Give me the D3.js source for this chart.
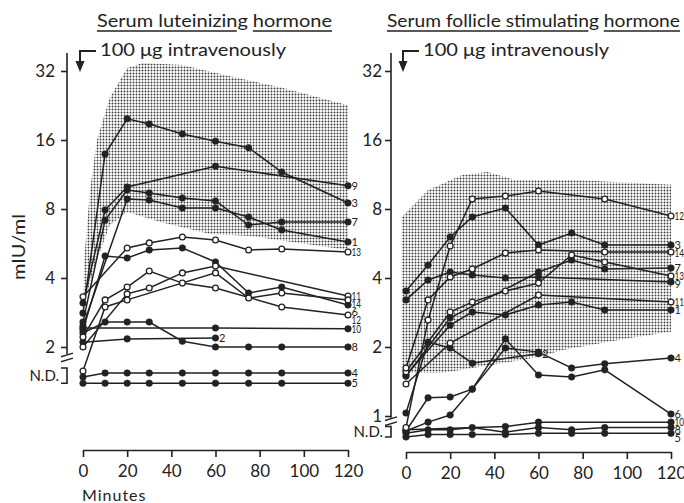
<!DOCTYPE html>
<html>
<head>
<meta charset="utf-8">
<script src="https://cdn.jsdelivr.net/npm/d3@7"></script>
<style>
    body { margin: 0; background: #fff; }
    svg { display: block; font-family: Lato, "DejaVu Sans", sans-serif; }
</style>
</head>
<body>
<svg id="chart" width="684" height="503"></svg>
<script>
// sampling times (minutes after injection)
const minutes = [0, 10, 20, 30, 45, 60, 75, 90, 120];
const xTicks = [0, 20, 40, 60, 80, 100, 120];
const lhTicks = [2, 4, 8, 16, 32];
const fshTicks = [1, 2, 4, 8, 16, 32];

// mIU/ml per patient, null = no sample. N.D. readings are kept at the level
// where they are plotted under the axis break.
const lh1 = [2.47, null, 8.85, 8.76, 8.08, 8.08, 7.38, 6.48, 5.74];
const lh2 = [2.10, null, 2.17, null, null, 2.19, null, null, null];
const lh3 = [2.81, 13.9, 19.8, 18.8, 17.0, 15.8, 14.8, 11.6, 8.5];
const lh4 = [1.48, 1.54, 1.54, 1.54, 1.54, 1.54, 1.54, 1.54, 1.54];
const lh5 = [1.39, 1.39, 1.39, 1.39, 1.39, 1.39, 1.39, 1.39, 1.39];
const lh6 = [2.37, 4.99, 4.89, 5.30, 5.41, 4.70, 3.44, 3.65, 3.05];
const lh7 = [2.57, 7.16, 9.68, 9.40, 8.93, 8.67, 6.81, 7.02, 7.02];
const lh8 = [2.30, 2.57, 2.57, 2.57, 2.12, 2.0, 2.0, 2.0, 2.0];
const lh9 = [3.11, 7.92, 9.98, null, null, 12.3, null, null, 10.1];
const lh10 = [2.42, null, null, null, null, 2.42, null, null, 2.40];
const lh11 = [2.0, null, 3.41, 3.62, 4.21, 4.51, null, null, 3.34];
const lh12 = [2.21, 3.21, 3.65, 4.29, 3.80, 3.62, null, 2.99, 2.76];
const lh13 = [3.31, null, 5.41, 5.69, 6.04, 5.86, 5.30, 5.35, 5.19];
const lh14 = [1.57, 2.99, 3.21, null, null, 4.21, 3.27, 3.44, 3.21];

const fsh1 = [1.51, null, 2.49, 2.84, 2.76, 3.05, 3.14, 2.90, 2.90];
const fsh2 = [1.03, 2.10, 1.98, 1.70, null, 1.87, null, null, null];
const fsh3 = [3.51, 4.56, 6.04, 7.38, 8.08, 5.57, 6.29, 5.57, 5.57];
const fsh4 = [0.86, 0.94, 1.01, 1.31, 1.98, 1.90, 1.62, 1.69, 1.79];
const fsh5 = [0.81, 0.83, 0.83, 0.83, 0.83, 0.84, 0.84, 0.84, 0.84];
const fsh6 = [0.86, 1.20, 1.21, 1.31, 2.17, 1.51, 1.48, 1.59, 1.02];
const fsh7 = [1.49, null, 2.68, null, null, 4.25, 4.79, 4.38, 4.42];
const fsh8 = [0.84, 0.87, 0.87, 0.89, 0.85, 0.89, 0.87, 0.89, 0.89];
const fsh9 = [3.21, 3.92, 4.25, 4.12, 4.0, 4.04, null, null, 3.84];
const fsh10 = [0.87, null, null, null, 0.90, 0.94, null, null, 0.94];
const fsh11 = [1.38, null, 2.08, null, null, 3.37, null, null, 3.14];
const fsh12 = [0.89, 2.62, 5.52, 8.85, 9.11, 9.59, null, 8.85, 7.46];
const fsh13 = [1.56, null, 2.84, 3.14, 3.51, 3.80, 5.04, 4.70, 4.08];
const fsh14 = [1.62, 3.21, 4.04, 4.38, 5.14, 5.30, null, 5.19, 5.19];

// [label, open circle, values]
const lhLines = [
    ["1", false, lh1], ["2", false, lh2], ["3", false, lh3], ["4", false, lh4],
    ["5", false, lh5], ["6", false, lh6], ["7", false, lh7], ["8", false, lh8],
    ["9", false, lh9], ["10", false, lh10], ["11", true, lh11], ["12", true, lh12],
    ["13", true, lh13], ["14", true, lh14],
];
const fshLines = [
    ["1", false, fsh1], ["2", false, fsh2], ["3", false, fsh3], ["4", false, fsh4],
    ["5", false, fsh5], ["6", false, fsh6], ["7", false, fsh7], ["8", false, fsh8],
    ["9", false, fsh9], ["10", false, fsh10], ["11", true, fsh11], ["12", true, fsh12],
    ["13", true, fsh13], ["14", true, fsh14],
];

// stippled normal range, [minutes, mIU/ml]
const lhBandUpper = [[0, 3.21], [0.5, 4.79], [3.2, 9.68], [6.3, 16], [12.2, 24.6], [20, 33.0],
    [27, 34.7], [45, 34.0], [68, 30.1], [90.6, 27.0], [120, 22.7]];
const lhBandLower = [[1, 3.21], [5.4, 4.56], [12.2, 6.81], [20, 7.77], [35, 7.02], [57.5, 6.22],
    [75.6, 6.10], [98, 5.69], [120, 5.30]];
const fshBandUpper = [[-2, 1.54], [-2, 7.38], [10, 9.68], [25.4, 11.26], [37, 11.6], [49.4, 10.7],
    [76.5, 10.7], [120, 10.2]];
const fshBandLower = [[-2, 1.54], [16.3, 1.54], [43.5, 1.70], [60, 1.81], [71, 1.94], [101.4, 2.19],
    [120, 2.33]];

const ink = "#222";
const svg = d3.select("#chart");

// dot screen for the normal range
const pat = svg.append("defs").append("pattern")
    .attr("id", "stipple")
    .attr("patternUnits", "userSpaceOnUse")
    .attr("width", 3)
    .attr("height", 3);
pat.append("circle").attr("cx", 1.5).attr("cy", 1.5).attr("r", 0.95).attr("fill", "#3a3a3a");

function title(text, x0, width) {
    const t = svg.append("text")
        .attr("x", x0)
        .attr("y", 27)
        .attr("font-size", 17)
        .attr("fill", ink)
        .attr("textLength", width)
        .attr("lengthAdjust", "spacingAndGlyphs")
        .text(text);
    // underline broken under each descending g
    const node = t.node();
    let start = node.getExtentOfChar(0).x;
    for (let i = 0; i < text.length; i++) {
        if (text[i] === "g" || i === text.length - 1) {
            const box = node.getExtentOfChar(i);
            const end = text[i] === "g" ? box.x - 0.5 : box.x + box.width;
            svg.append("line").attr("x1", start).attr("x2", end).attr("y1", 31).attr("y2", 31)
                .attr("stroke", ink).attr("stroke-width", 1.5);
            let j = i + 1;
            while (j < text.length && text[j] === " ") j++;
            if (j < text.length) start = node.getExtentOfChar(j).x;
            i = j - 1;
        }
    }
}

function drawPanel(p) {
    const x = d3.scaleLinear().domain([0, 120]).range(p.xRange);
    const y = d3.scaleLog().base(2).domain([p.ticks[0], 32]).range([p.yBottom, 71]);
    const g = svg.append("g");

    const band = p.bandUpper.concat(p.bandLower.slice().reverse());
    g.append("path")
        .attr("d", d3.line().x((d) => x(d[0])).y((d) => y(d[1]))(band) + "Z")
        .attr("fill", "url(#stipple)");

    // y axis with break and N.D. bracket
    const ax = p.axisX;
    const yAxis = g.append("g")
        .attr("transform", `translate(${ax},0)`)
        .call(d3.axisLeft(y).tickValues(p.ticks).tickFormat(d3.format("d"))
            .tickSize(6).tickPadding(p.pad).tickSizeOuter(0));
    yAxis.select(".domain").remove();
    yAxis.attr("font-family", null).attr("font-size", 17);
    yAxis.selectAll("line").attr("stroke", ink).attr("stroke-width", 1.6);
    yAxis.selectAll("text").attr("fill", ink);

    const yLow = y(p.ticks[0]);
    const ndTop = y(p.nd[0]);
    const ndBottom = y(p.nd[1]);
    const mid = (yLow + ndTop) / 2;
    g.append("line").attr("x1", ax).attr("x2", ax).attr("y1", y(32) - 18).attr("y2", mid - 3.5)
        .attr("stroke", ink).attr("stroke-width", 1.6);
    [-2.5, 2.5].forEach((o) => {
        g.append("line").attr("x1", ax - 6).attr("x2", ax + 6)
            .attr("y1", mid + o + 1.8).attr("y2", mid + o - 1.8)
            .attr("stroke", ink).attr("stroke-width", 1.4);
    });
    g.append("path")
        .attr("d", `M${ax - 6},${ndTop}H${ax}V${ndBottom}H${ax - 6}`)
        .attr("fill", "none").attr("stroke", ink).attr("stroke-width", 1.6);
    g.append("text")
        .attr("x", ax - 8).attr("y", (ndTop + ndBottom) / 2 + 5.5)
        .attr("text-anchor", "end").attr("font-size", 15).attr("fill", ink)
        .text("N.D.");

    // x axis
    const xAxis = g.append("g")
        .attr("transform", `translate(0,${p.xAxisY})`)
        .call(d3.axisBottom(x).tickValues(xTicks).tickSize(7).tickPadding(8).tickSizeOuter(0));
    xAxis.attr("font-family", null).attr("font-size", 17);
    xAxis.selectAll("line,path").attr("stroke", ink).attr("stroke-width", 1.6);
    xAxis.selectAll("text").attr("fill", ink);

    // injection arrow
    const x0 = x(0) - 3;
    const top = y(32) - 20;
    g.append("path")
        .attr("d", `M${x0 + 16},${top}H${x0}V${y(32) - 8}`)
        .attr("fill", "none").attr("stroke", ink).attr("stroke-width", 2);
    g.append("path")
        .attr("d", `M${x0 - 4.5},${y(32) - 10}L${x0 + 4.5},${y(32) - 10}L${x0},${y(32) + 1}Z`)
        .attr("fill", ink);
    g.append("text")
        .attr("x", x0 + 20).attr("y", top + 4.5)
        .attr("font-size", 17).attr("fill", ink)
        .attr("textLength", 186).attr("lengthAdjust", "spacingAndGlyphs")
        .text("100 μg intravenously");

    // patients
    const series = p.lines.map(([label, open, values]) => ({
        label,
        open,
        pts: minutes.map((m, i) => [m, values[i]]).filter((d) => d[1] !== null),
    }));
    const line = d3.line().x((d) => x(d[0])).y((d) => y(d[1]));

    g.append("g").selectAll("path")
        .data(series)
        .join("path")
        .attr("d", (d) => line(d.pts))
        .attr("fill", "none")
        .attr("stroke", ink)
        .attr("stroke-width", 1.5);

    series.forEach((s) => {
        g.append("g").selectAll("circle")
            .data(s.pts)
            .join("circle")
            .attr("cx", (d) => x(d[0]))
            .attr("cy", (d) => y(d[1]))
            .attr("r", s.open ? 2.9 : 3.3)
            .attr("fill", s.open ? "#fff" : ink)
            .attr("stroke", ink)
            .attr("stroke-width", s.open ? 1.3 : 0.5);
    });

    // end labels, pushed apart where they crowd
    const labels = series.map((s) => {
        const last = s.pts[s.pts.length - 1];
        return { label: s.label, lx: x(last[0]) + 3.5, ly: y(last[1]) + 4 };
    });
    const atEnd = labels.filter((d) => d.lx > x(100)).sort((a, b) => a.ly - b.ly);
    for (let i = 1; i < atEnd.length; i++) {
        if (atEnd[i].ly < atEnd[i - 1].ly + 8) atEnd[i].ly = atEnd[i - 1].ly + 8;
    }
    g.append("g").selectAll("text")
        .data(labels)
        .join("text")
        .attr("x", (d) => d.lx)
        .attr("y", (d) => d.ly)
        .attr("font-size", 11)
        .attr("fill", ink)
        .attr("textLength", (d) => (d.label.length > 1 ? 9.5 : null))
        .attr("lengthAdjust", "spacingAndGlyphs")
        .text((d) => d.label);
}

title("Serum luteinizing hormone", 97, 235);
title("Serum follicle stimulating hormone", 387, 293);

drawPanel({
    xRange: [83, 348], yBottom: 347, axisX: 67, pad: 6, xAxisY: 450,
    ticks: lhTicks, nd: [1.62, 1.39], lines: lhLines,
    bandUpper: lhBandUpper, bandLower: lhBandLower,
});
drawPanel({
    xRange: [406, 671], yBottom: 416, axisX: 391, pad: 3, xAxisY: 452,
    ticks: fshTicks, nd: [0.90, 0.81], lines: fshLines,
    bandUpper: fshBandUpper, bandLower: fshBandLower,
});

svg.append("text")
    .attr("transform", "translate(25,247) rotate(-90)")
    .attr("text-anchor", "middle")
    .attr("font-size", 17)
    .attr("fill", ink)
    .attr("textLength", 66)
    .attr("lengthAdjust", "spacingAndGlyphs")
    .text("mIU/ml");

svg.append("text")
    .attr("x", 82).attr("y", 501)
    .attr("font-size", 16)
    .attr("fill", ink)
    .attr("letter-spacing", 1)
    .text("Minutes");
</script>
</body>
</html>
